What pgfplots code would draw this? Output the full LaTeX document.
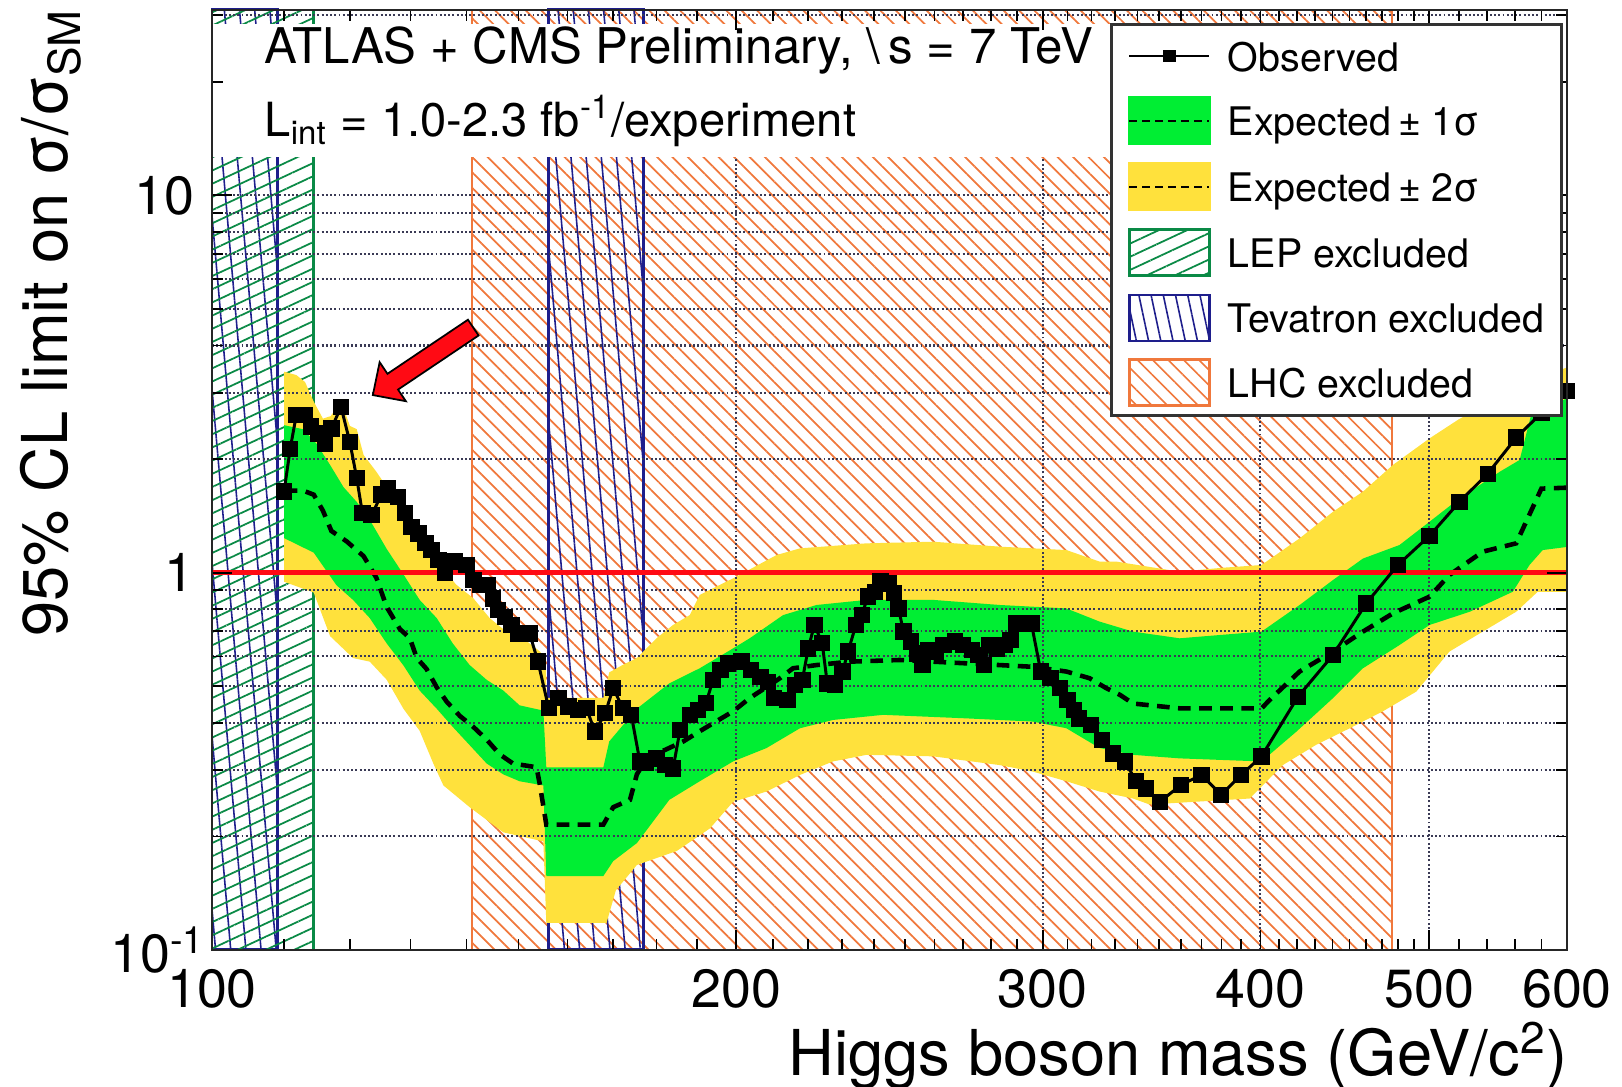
\documentclass[border=0pt]{standalone}
\usepackage{fontspec}
\setmainfont{TeX Gyre Heros}
\usepackage{pgfplots}
\pgfplotsset{compat=1.18}
\usetikzlibrary{patterns.meta}

\definecolor{bandGreen}{HTML}{00EE33}
\definecolor{bandYellow}{HTML}{FFE13C}
\definecolor{lepGreen}{HTML}{0A8A46}
\definecolor{tevBlue}{HTML}{1E1E8C}
\definecolor{lhcOrange}{HTML}{F0783C}
\definecolor{smRed}{HTML}{FF0A14}
\definecolor{gridInk}{HTML}{3A3A55}

% hatches and bands under the grid, curves above it, frame and ticks on top
\pgfplotsset{
  layers/higgs/.define layer set={
    axis background,pre main,axis grid,main,axis ticks,axis lines,axis tick labels,axis descriptions,axis foreground
  }{
    grid style={/pgfplots/on layer=axis grid},
    tick style={/pgfplots/on layer=axis ticks},
    axis line style={/pgfplots/on layer=axis lines},
    label style={/pgfplots/on layer=axis descriptions},
    legend style={/pgfplots/on layer=axis descriptions},
    title style={/pgfplots/on layer=axis descriptions},
    colorbar style={/pgfplots/on layer=axis descriptions},
    ticklabel style={/pgfplots/on layer=axis tick labels},
    axis background@ style={/pgfplots/on layer=axis background},
    3d box foreground style={/pgfplots/on layer=axis foreground},
  },
}

\begin{document}
\begin{tikzpicture}
\begin{axis}[
  name=ax,
  set layers=higgs,
  scale only axis,
  width=13.55cm, height=9.40cm,
  xmode=log, ymode=log,
  xmin=100, xmax=600, ymin=0.1, ymax=31,
  xtick={100,200,300,400,500,600},
  xticklabels={100,200,300,400,500,600},
  minor xtick={110,120,130,140,150,160,170,180,190,210,220,230,240,250,260,270,280,290,
    310,320,330,340,350,360,370,380,390,410,420,430,440,450,460,470,480,490,520,540,560,580},
  ytick={0.1,1,10},
  yticklabels={\raisebox{-0.2cm}{10\textsuperscript{-1}}\hspace*{-0.11cm},1,10},
  minor ytick={0.2,0.3,0.4,0.5,0.6,0.7,0.8,0.9,2,3,4,5,6,7,8,9,20,30},
  xmajorgrids, ymajorgrids, yminorgrids,
  grid style={gridInk, line width=0.6pt, dash pattern=on 0.55pt off 0.65pt},
  major tick length=0.2cm, minor tick length=0.11cm,
  tick style={black, line width=0.5pt},
  axis line style={black!85, line width=0.7pt},
  tick label style={font=\fontsize{15.3}{18}\selectfont},
  xticklabel style={yshift=-0.07cm},
  yticklabel style={xshift=-0.05cm},
  label style={font=\fontsize{18}{21}\selectfont},
  xlabel={Higgs boson mass (GeV/c\textsuperscript{2})},
  ylabel={95\% CL limit on σ/σ\textsubscript{SM}},
  xlabel style={at={(rel axis cs:1,0)}, anchor=base east, yshift=-1.26cm, xshift=0.13cm},
  ylabel style={at={(rel axis cs:0,1)}, anchor=base east, yshift=1.44cm, xshift=0.14cm},
  legend cell align=left,
  legend style={
    at={(rel axis cs:0.6627,0.9862)}, anchor=north west,
    draw=black!80, line width=0.8pt, fill=white,
    font=\fontsize{11.2}{13}\selectfont,
    inner xsep=0.166cm, inner ysep=0.087cm,
    row sep=0.172cm,
    nodes={inner sep=0pt},
    /tikz/every odd column/.append style={column sep=0.172cm},
  },
]

% LHC excluded 141-476
\addplot[on layer=axis background, draw=lhcOrange, line width=0.6pt,
  pattern={Lines[angle=-45,distance=3.1pt,line width=0.5pt]}, pattern color=lhcOrange, forget plot]
  coordinates {(141,0.1) (141,31) (476,31) (476,0.1)} -- cycle;
% Tevatron excluded 156-177 and 100-109
\addplot[on layer=axis background, draw=tevBlue, line width=0.85pt,
  pattern={Lines[angle=-85,distance=4.3pt,line width=0.45pt]}, pattern color=tevBlue, forget plot]
  coordinates {(156,0.1) (156,31) (177,31) (177,0.1)} -- cycle;
\addplot[on layer=axis background, draw=tevBlue, line width=0.85pt,
  pattern={Lines[angle=-85,distance=4.3pt,line width=0.45pt]}, pattern color=tevBlue, forget plot]
  coordinates {(100,0.1) (100,31) (109,31) (109,0.1)} -- cycle;
% LEP excluded up to 114.4
\addplot[on layer=axis background, draw=lepGreen, line width=0.8pt,
  pattern={Lines[angle=25,distance=3.4pt,line width=0.5pt]}, pattern color=lepGreen, forget plot]
  coordinates {(100,0.1) (100,31) (114.4,31) (114.4,0.1)} -- cycle;

% expected +-2 sigma band: upper edge, then lower edge backwards
\addplot[on layer=pre main, fill=bandYellow, draw=none, forget plot] coordinates {
  (110,3.41) (111.8,3.34) (113.1,3.2) (114.4,2.84) (115.8,2.56) (117,2.6) (118.6,2.85)
  (120,2.45) (121.1,2.4) (122.2,2.05) (124.3,1.85) (126.5,1.64) (129.3,1.39) (132.2,1.18)
  (135.2,1.05) (138.1,0.93) (141.3,0.855) (144.4,0.757) (147.6,0.698) (150.9,0.67)
  (154.3,0.618) (155.4,0.59) (155.7,0.466) (167.8,0.466) (169.1,0.544) (172.2,0.57)
  (175.4,0.594) (180,0.67) (184,0.727) (188.1,0.772) (190.6,0.873) (199.2,0.966)
  (211,1.114) (217.6,1.16) (237.6,1.196) (259.5,1.208) (283.5,1.172) (309.5,1.148)
  (323.4,1.07) (330.6,1.07) (359.5,1.006) (380,1.03) (400.6,1.048) (421.3,1.233)
  (440.3,1.45) (458.1,1.64) (476.6,1.93) (500.3,2.27) (520,2.55) (540,2.8) (560,3.0)
  (580,3.3) (600,3.5)
  (600,0.89) (577.2,0.89) (561,0.788) (536.8,0.698) (513.6,0.618) (491.6,0.484)
  (470.3,0.429) (450.2,0.387) (430.7,0.35) (412,0.309) (394.4,0.252) (345.5,0.243)
  (338,0.252) (323.4,0.263) (309.5,0.28) (296.1,0.297) (283.5,0.309) (259.5,0.326)
  (237.6,0.329) (227.3,0.316) (217.6,0.291) (208.2,0.263) (199.2,0.247) (193.2,0.21)
  (184.9,0.183) (175.4,0.168) (170.6,0.144) (168.5,0.118) (155.6,0.118) (155,0.194)
  (147,0.205) (140.6,0.239) (135.8,0.273) (134,0.312) (131.6,0.381) (128.8,0.436)
  (126,0.52) (123.2,0.581) (120.5,0.594) (116.9,0.679) (114.4,0.886) (110,0.946)
} -- cycle;

% expected +-1 sigma band
\addplot[on layer=pre main, fill=bandGreen, draw=none, forget plot] coordinates {
  (110,2.46) (112.8,2.4) (114.8,2.2) (116.9,1.93) (119,1.685) (121.1,1.54) (123.2,1.38)
  (126,1.155) (128.8,0.99) (131.6,0.847) (134.6,0.758) (137.5,0.649) (140.6,0.569)
  (143.8,0.52) (147,0.487) (150.2,0.445) (155,0.431) (155.6,0.305) (167.8,0.305)
  (169.1,0.357) (175.4,0.436) (183.1,0.509) (190.6,0.558) (199.2,0.63) (203.6,0.67)
  (212.8,0.772) (222.4,0.821) (237.6,0.847) (259.5,0.847) (283.5,0.821) (309.5,0.804)
  (323.4,0.742) (338,0.698) (359.5,0.67) (400.6,0.698) (421.3,0.821) (440.3,0.956)
  (458.1,1.09) (480.8,1.184) (500.3,1.365) (520.4,1.573) (549,1.852) (563.6,1.99)
  (572,2.6) (600,2.9)
  (600,1.17) (581,1.148) (571,1.048) (558.5,0.89) (527.6,0.788) (500.3,0.727)
  (480.8,0.643) (458.1,0.558) (440.3,0.465) (419.5,0.379) (400.6,0.316) (359.5,0.322)
  (338,0.329) (323.4,0.343) (309.5,0.387) (296.1,0.403) (271.2,0.411) (242.9,0.42)
  (227.3,0.407) (217.6,0.387) (208.2,0.343) (199.2,0.316) (190.6,0.28) (183.1,0.25)
  (175.4,0.192) (170,0.172) (167.8,0.157) (155.6,0.157) (155,0.273) (150.2,0.28)
  (147,0.292) (143.8,0.312) (140.6,0.349) (137.5,0.39) (134.6,0.436) (131.6,0.487)
  (128.8,0.568) (126,0.649) (123.2,0.758) (120.5,0.847) (117.9,0.926) (114.4,1.13)
  (110,1.235)
} -- cycle;

% expected median
\addplot[black, line width=1.3pt, dash pattern=on 3.6pt off 2.4pt, forget plot] coordinates {
  (110.1,1.65) (112.8,1.65) (114.4,1.61) (115.8,1.46) (117.1,1.29) (119.5,1.21)
  (122.2,1.106) (124.3,0.968) (126,0.81) (128.2,0.709) (129.9,0.671) (131.1,0.594)
  (132.8,0.556) (134.6,0.497) (136.4,0.455) (138.8,0.417) (141.3,0.39) (143.8,0.361)
  (146.3,0.33) (148.9,0.312) (153.6,0.305) (154.3,0.273) (155.6,0.215) (167.8,0.215)
  (170,0.239) (173.8,0.25) (175.4,0.292) (176.9,0.312) (180.8,0.334) (186.5,0.357)
  (190.6,0.38) (199.2,0.429) (203.6,0.465) (211.9,0.525) (215.6,0.558) (222.4,0.569)
  (232.4,0.581) (248.3,0.587) (271.2,0.575) (296.1,0.563) (309.5,0.547) (319.2,0.525)
  (326.3,0.494) (332.1,0.475) (338,0.45) (359.5,0.437) (400.6,0.437) (405.9,0.465)
  (421.3,0.547) (440.3,0.618) (458.1,0.698) (476.6,0.78) (500.3,0.864) (513.6,0.986)
  (536.8,1.137) (561,1.196) (580,1.67) (600,1.68)
};

% SM line
\addplot[smRed, line width=1.6pt, forget plot] coordinates {(100,1) (600,1)};

% observed
\addplot[black, line width=0.85pt, mark=square*, mark size=1.9pt, forget plot] coordinates {
  (110,1.64) (110.9,2.13) (111.8,2.62) (113.1,2.62) (114,2.44) (115,2.34) (116.1,2.2)
  (117.1,2.41) (118.6,2.75) (120,2.22) (121.1,1.78) (122,1.44) (123.5,1.42) (125.1,1.61)
  (126.2,1.67) (127.9,1.59) (129.1,1.44) (130.2,1.32) (131.4,1.27) (132.6,1.2)
  (133.7,1.15) (134.9,1.08) (136.1,1.0) (137.9,1.07) (140,1.05) (141.3,0.956)
  (142.5,0.928) (144.1,0.928) (145,0.855) (146,0.796) (147.3,0.764) (148.6,0.727)
  (149.9,0.69) (152.2,0.69) (153.9,0.581) (156.1,0.437) (158.1,0.465) (160.2,0.442)
  (162.3,0.433) (164.1,0.437) (165.9,0.379) (168.2,0.424) (170,0.494) (172.2,0.437)
  (174.1,0.42) (176.1,0.316) (177.6,0.313) (180,0.322) (182,0.309) (184,0.303)
  (185.7,0.383) (188.1,0.42) (190.1,0.433) (192.2,0.451) (194,0.52) (195.9,0.552)
  (197.9,0.575) (201.4,0.581) (204,0.552) (206.5,0.53) (208.6,0.514) (210.2,0.465)
  (214,0.46) (216.1,0.504) (218.3,0.52) (220,0.63) (221.8,0.727) (224.1,0.65)
  (225.6,0.509) (227.9,0.504) (230.2,0.547) (231.9,0.618) (234.3,0.727) (236.1,0.772)
  (238.1,0.864) (240.3,0.89) (242.1,0.947) (244.6,0.937) (246.4,0.882) (247.9,0.804)
  (249.5,0.698) (252.1,0.657) (254.1,0.611) (255.9,0.569) (257.9,0.624) (260.5,0.618)
  (263.1,0.643) (267.2,0.657) (269.9,0.643) (273.3,0.624) (275.4,0.605) (277.5,0.569)
  (279.6,0.643) (282.4,0.63) (285.3,0.643) (287.4,0.663) (289.6,0.734) (293.3,0.734)
  (295.5,0.734) (299.2,0.547) (303,0.525) (306.9,0.494) (310,0.46) (312.5,0.433)
  (314.8,0.411) (319.6,0.395) (324.4,0.36) (329.3,0.332) (334.3,0.316) (339.5,0.28)
  (343.9,0.268) (350.2,0.247) (360.3,0.274) (370,0.291) (379.8,0.258) (390,0.291)
  (400.6,0.326) (420.4,0.469) (440.3,0.605) (460.1,0.829) (479.7,1.048) (500.3,1.253)
  (520.4,1.54) (540.3,1.83) (561,2.28) (580,2.65) (600,3.03)
};

% white box behind the header text
\fill[white] (axis cs:100,12.6) rectangle (axis cs:330,28.5);
\node[anchor=base west, inner sep=0pt, font=\fontsize{14}{16}\selectfont] at (rel axis cs:0.0384,0.9426)
  {ATLAS + CMS Preliminary, \textbackslash\,s = 7 TeV};
\node[anchor=base west, inner sep=0pt, font=\fontsize{13.4}{16}\selectfont] at (rel axis cs:0.0384,0.8654)
  {L\textsubscript{int} = 1.0-2.3 fb\textsuperscript{-1}/experiment};

\coordinate (arrowtip) at (axis cs:123.7,2.956);

\addlegendimage{legend image code/.code={
  \path[draw=none] (0cm,-0.20cm) rectangle (0.8cm,0.26cm);
  \draw[black, line width=0.6pt] (0cm,0.03cm) -- (0.8cm,0.03cm);
  \fill[black] (0.35cm,-0.02cm) rectangle (0.45cm,0.08cm);}}
\addlegendentry{Observed}
\addlegendimage{legend image code/.code={
  \fill[bandGreen] (0cm,-0.20cm) rectangle (0.8cm,0.26cm);
  \draw[black, line width=0.6pt, dash pattern=on 2.2pt off 1.5pt] (0cm,0.03cm) -- (0.8cm,0.03cm);}}
\addlegendentry{Expected\,± 1σ}
\addlegendimage{legend image code/.code={
  \fill[bandYellow] (0cm,-0.20cm) rectangle (0.8cm,0.26cm);
  \draw[black, line width=0.6pt, dash pattern=on 2.2pt off 1.5pt] (0cm,0.03cm) -- (0.8cm,0.03cm);}}
\addlegendentry{Expected\,± 2σ}
\addlegendimage{legend image code/.code={
  \draw[lepGreen, line width=0.8pt, pattern={Lines[angle=25,distance=3.4pt,line width=0.5pt]},
    pattern color=lepGreen] (0cm,-0.20cm) rectangle (0.8cm,0.26cm);}}
\addlegendentry{LEP excluded}
\addlegendimage{legend image code/.code={
  \draw[tevBlue, line width=0.8pt, pattern={Lines[angle=-78,distance=3.4pt,line width=0.45pt]},
    pattern color=tevBlue] (0cm,-0.20cm) rectangle (0.8cm,0.26cm);}}
\addlegendentry{Tevatron excluded}
\addlegendimage{legend image code/.code={
  \draw[lhcOrange, line width=0.8pt, pattern={Lines[angle=-45,distance=3.1pt,line width=0.45pt]},
    pattern color=lhcOrange] (0cm,-0.20cm) rectangle (0.8cm,0.26cm);}}
\addlegendentry{LHC excluded}
\end{axis}

% annotation arrow pointing at the low-mass excess
\begin{scope}[shift={(arrowtip)}, rotate=33.9]
  \filldraw[fill=smRed, draw=black, line width=0.5pt]
    (0,0) -- (0.24,0.235) -- (0.24,0.095) -- (1.21,0.095) -- (1.21,-0.095)
    -- (0.24,-0.095) -- (0.24,-0.235) -- cycle;
\end{scope}

\pgfresetboundingbox
\path[use as bounding box] ([xshift=-2.12cm,yshift=-1.37cm]ax.south west)
  rectangle ([xshift=0.55cm,yshift=0.10cm]ax.north east);
\end{tikzpicture}
\end{document}
